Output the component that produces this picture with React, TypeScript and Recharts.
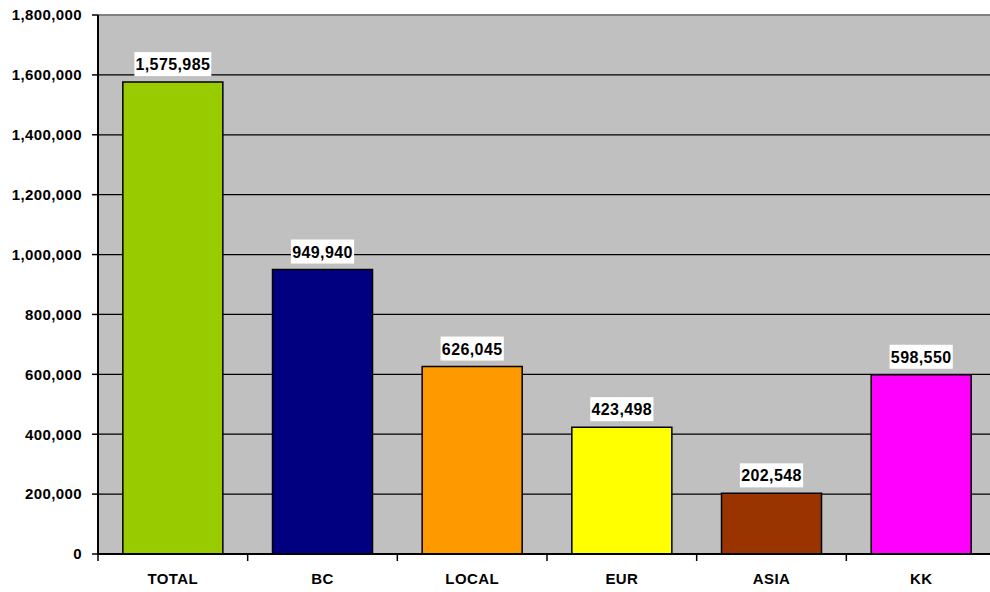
import React from "react";
import {
  BarChart,
  Bar,
  XAxis,
  YAxis,
  CartesianGrid,
  Cell,
  LabelList,
  ReferenceLine,
} from "recharts";

const CATEGORIES = ["TOTAL", "BC", "LOCAL", "EUR", "ASIA", "KK"];
const VALUES = [1575985, 949940, 626045, 423498, 202548, 598550];
const BAR_COLORS = ["#99CC00", "#000080", "#FF9900", "#FFFF00", "#993300", "#FF00FF"];
const Y_TICKS = [0, 200000, 400000, 600000, 800000, 1000000, 1200000, 1400000, 1600000, 1800000];

const data = CATEGORIES.map((name, i) => ({ name, value: VALUES[i] }));

const FONT = '"Liberation Sans", Arial, sans-serif';
const CHART_W = 1000;
const CHART_H = 592;
const MARGIN = { top: 15, right: 4, left: 0, bottom: 0 };
const Y_AXIS_W = 98;
const BAND = (CHART_W - MARGIN.left - MARGIN.right - Y_AXIS_W) / CATEGORIES.length;

const fmt = (v: number) => v.toLocaleString("en-US");

// category label plus the tick marks sitting between categories
// (y arrives already offset by tickSize + tickMargin = 8)
const CategoryTick = ({ x, y, payload, index }: any) => {
  const half = BAND / 2;
  const axisY = y - 8;
  const isLast = index === CATEGORIES.length - 1;
  return (
    <g>
      <line x1={x - half} x2={x - half} y1={axisY} y2={axisY + 7} stroke="#000" strokeWidth={1.5} />
      {isLast && (
        <line x1={x + half} x2={x + half} y1={axisY} y2={axisY + 7} stroke="#000" strokeWidth={1.5} />
      )}
      <text
        x={x}
        y={axisY + 30}
        textAnchor="middle"
        fontFamily={FONT}
        fontWeight="bold"
        fontSize={15}
        letterSpacing={0.4}
        fill="#000"
      >
        {payload.value}
      </text>
    </g>
  );
};

const ValueLabel = ({ x, y, width, value }: any) => {
  const s = fmt(value);
  const digits = s.replace(/,/g, "").length;
  const commas = s.length - digits;
  const textW = digits * 9.1 + commas * 4.6;
  const cx = x + width / 2;
  const boxW = textW + 4;
  return (
    <g>
      <rect x={cx - boxW / 2} y={y - 30} width={boxW} height={24} fill="#fff" />
      <text
        x={cx}
        y={y - 12}
        textAnchor="middle"
        fontFamily={FONT}
        fontWeight="bold"
        fontSize={16}
        letterSpacing={0.4}
        fill="#000"
      >
        {s}
      </text>
    </g>
  );
};

export default function App() {
  return (
    <div
      style={{
        position: "fixed",
        top: 0,
        left: 0,
        width: 990,
        height: 592,
        overflow: "hidden",
        background: "#fff",
      }}
    >
      <BarChart
        width={CHART_W}
        height={CHART_H}
        data={data}
        margin={MARGIN}
        barCategoryGap="16.6%"
      >
        <CartesianGrid
          vertical={false}
          stroke="#000"
          strokeWidth={1.2}
          fill="#C0C0C0"
          fillOpacity={1}
        />
        <XAxis
          dataKey="name"
          height={38}
          axisLine={{ stroke: "#000", strokeWidth: 2 }}
          tickLine={false}
          tickSize={6}
          tickMargin={2}
          tick={<CategoryTick />}
          interval={0}
        />
        <YAxis
          width={Y_AXIS_W}
          domain={[0, 1800000]}
          ticks={Y_TICKS}
          interval={0}
          tickFormatter={fmt}
          axisLine={{ stroke: "#000", strokeWidth: 2 }}
          tickLine={{ stroke: "#000", strokeWidth: 1.5 }}
          tickSize={6}
          tickMargin={10}
          tick={{ fontFamily: FONT, fontWeight: "bold", fontSize: 15, fill: "#000", letterSpacing: 0.4 }}
        />
        <ReferenceLine y={1800000} stroke="#808080" strokeWidth={2} />
        <Bar dataKey="value" stroke="#000" strokeWidth={1.5} isAnimationActive={false}>
          {data.map((d, i) => (
            <Cell key={d.name} fill={BAR_COLORS[i]} />
          ))}
          <LabelList dataKey="value" content={<ValueLabel />} />
        </Bar>
      </BarChart>
    </div>
  );
}
